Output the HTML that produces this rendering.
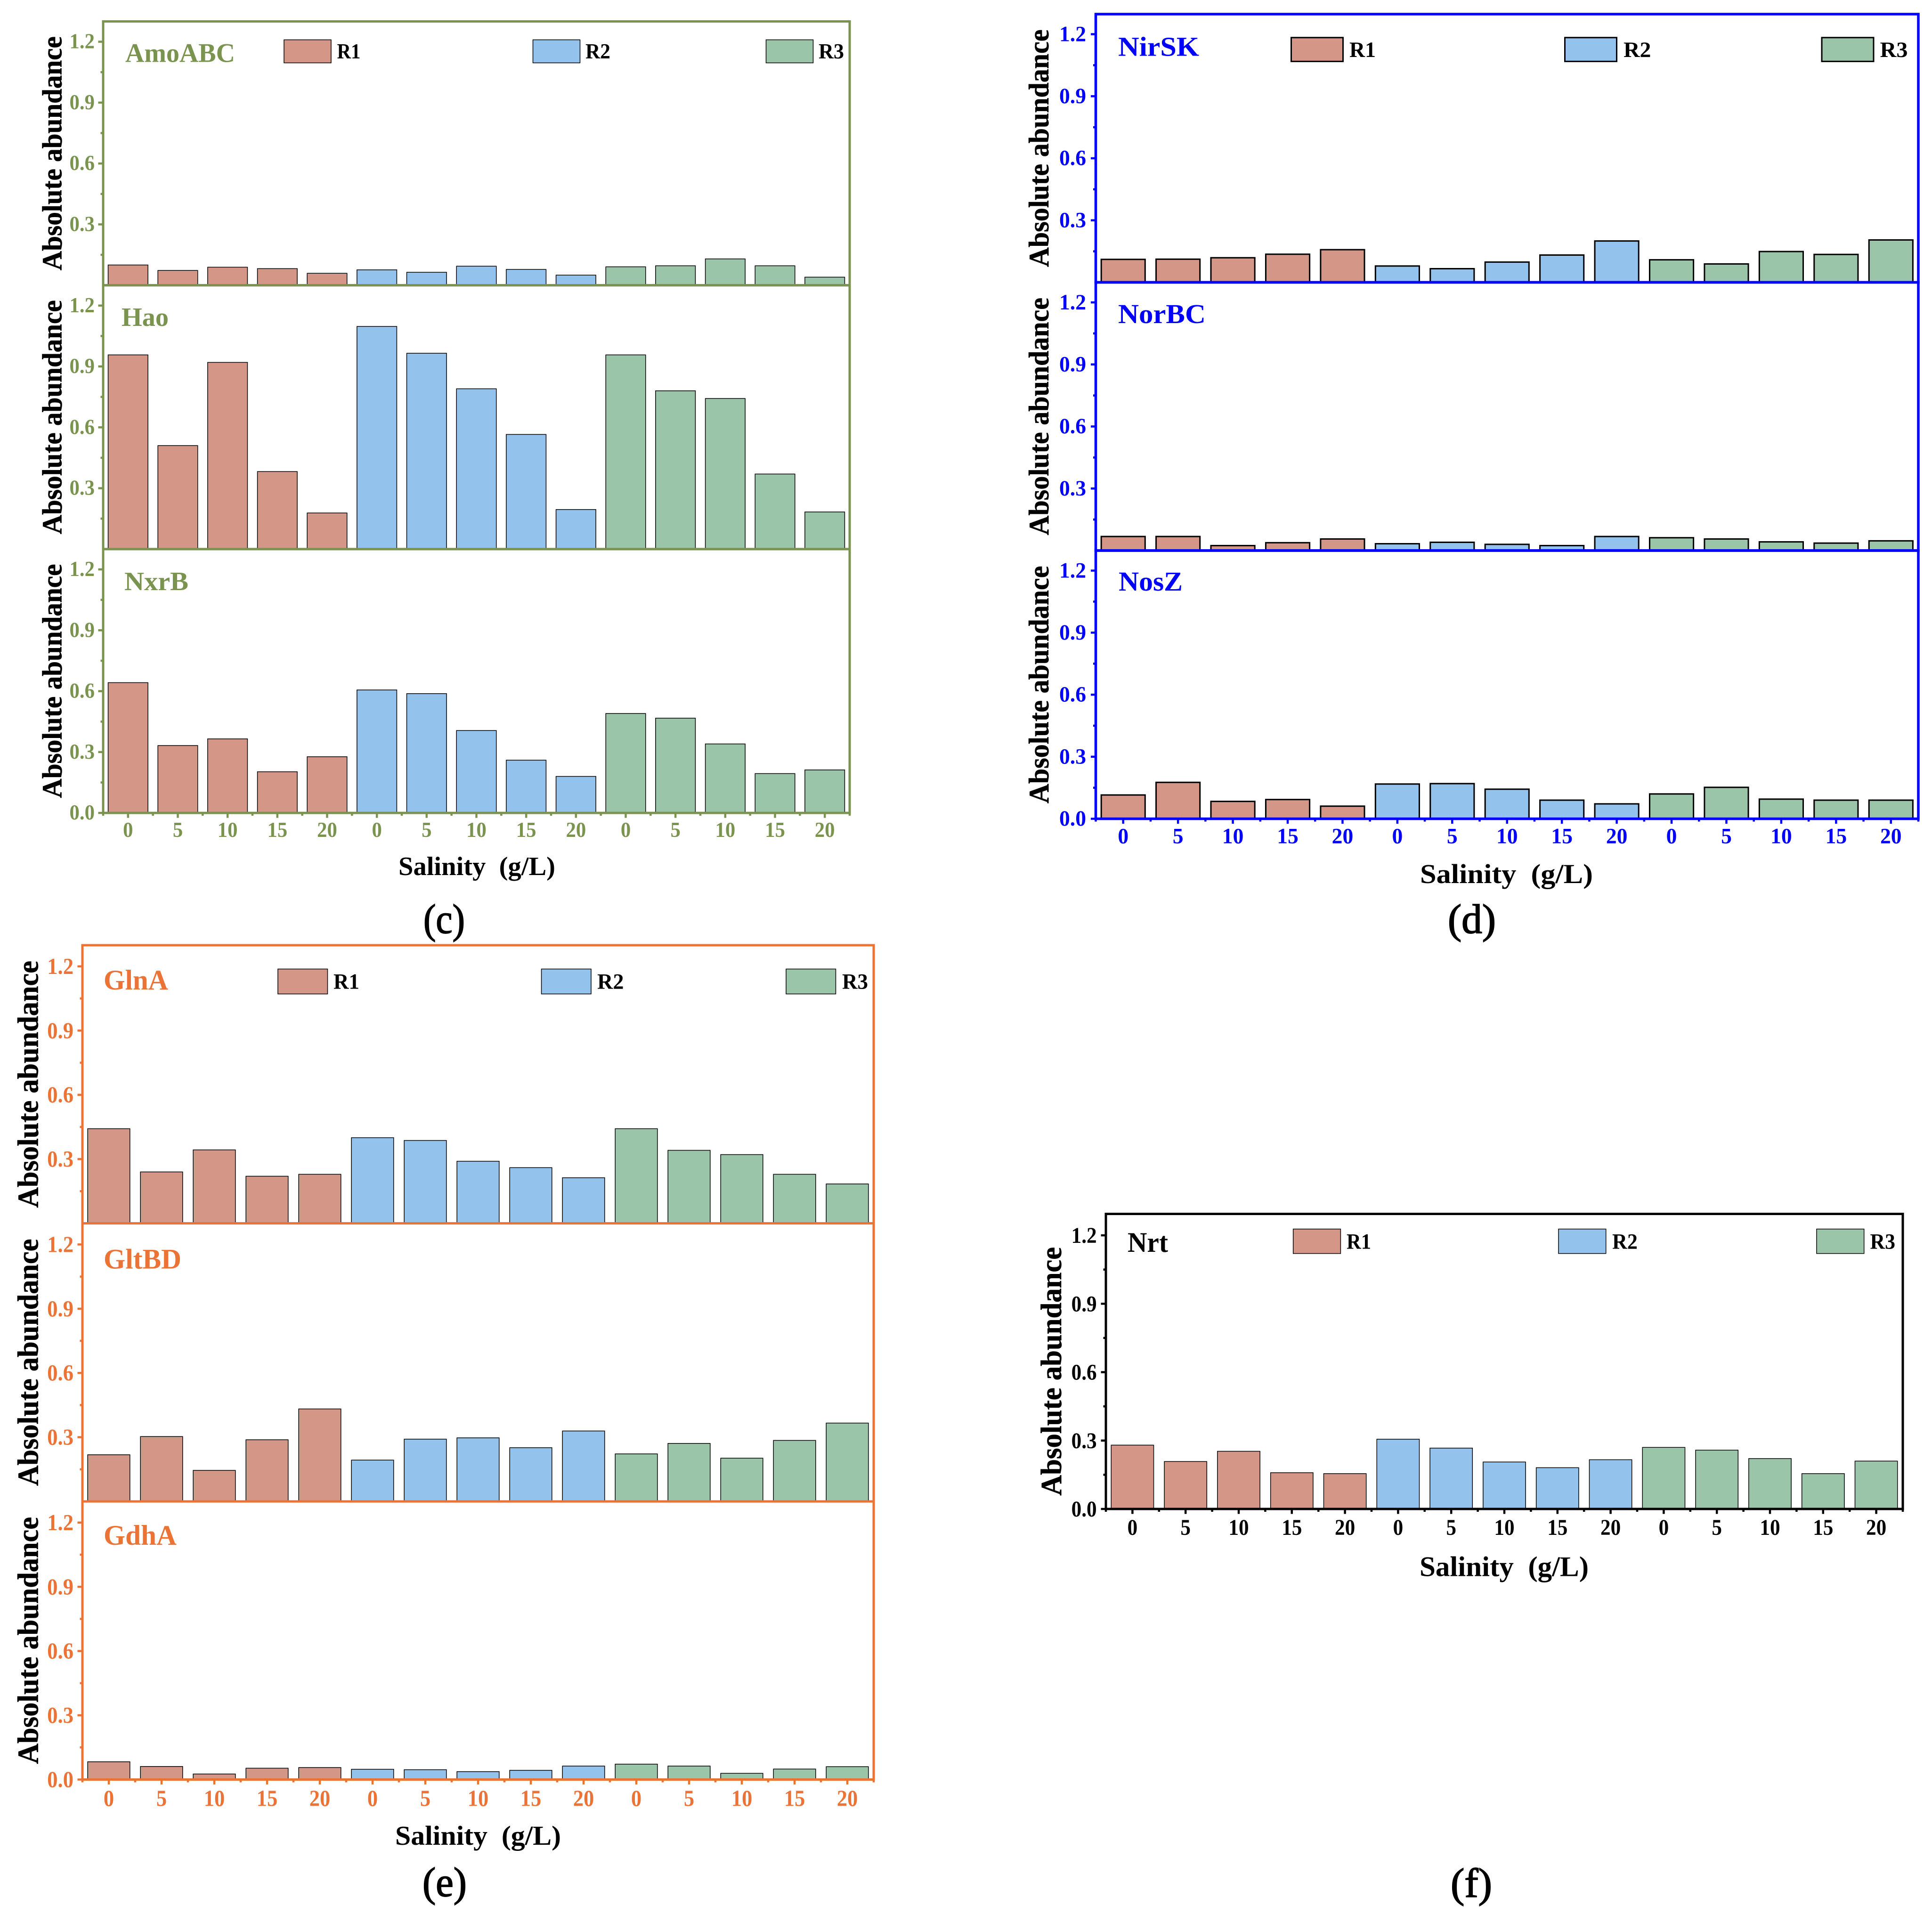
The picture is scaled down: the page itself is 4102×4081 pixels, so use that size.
<!DOCTYPE html>
<html lang="en">
<head>
<meta charset="utf-8">
<title>Absolute abundance of nitrogen-cycle enzymes versus salinity</title>
<style>
html,body{margin:0;padding:0;background:#fff;}
svg{display:block;}
text{font-family:"Liberation Serif",serif;white-space:pre;}
</style>
</head>
<body>
<svg id="figure" xmlns="http://www.w3.org/2000/svg" width="4102" height="4081" viewBox="0 0 4102 4081"></svg>
<script>
/* ---------- shared tick labels and categories ---------- */
const salinityLabels = ['0','5','10','15','20','0','5','10','15','20','0','5','10','15','20'];
const yMajorValues = [0.3,0.6,0.9,1.2];
const yMajorLabels = ['0.3','0.6','0.9','1.2'];
const yMinorValues = [0.15,0.45,0.75,1.05];
const seriesNames = ['R1','R2','R3'];

/* ---------- series values ---------- */
const AmoABC_R1 = [0.100,0.073,0.089,0.082,0.059];
const AmoABC_R2 = [0.076,0.064,0.094,0.078,0.050];
const AmoABC_R3 = [0.091,0.096,0.130,0.096,0.040];
const Hao_R1 = [0.957,0.510,0.920,0.382,0.178];
const Hao_R2 = [1.097,0.965,0.790,0.565,0.195];
const Hao_R3 = [0.957,0.780,0.742,0.370,0.183];
const NxrB_R1 = [0.642,0.332,0.365,0.203,0.277];
const NxrB_R2 = [0.606,0.588,0.406,0.260,0.180];
const NxrB_R3 = [0.490,0.467,0.340,0.194,0.212];

const NirSK_R1 = [0.111,0.112,0.119,0.136,0.158];
const NirSK_R2 = [0.079,0.066,0.098,0.132,0.200];
const NirSK_R3 = [0.109,0.089,0.149,0.135,0.205];
const NorBC_R1 = [0.068,0.068,0.024,0.038,0.056];
const NorBC_R2 = [0.033,0.040,0.030,0.024,0.068];
const NorBC_R3 = [0.062,0.056,0.042,0.036,0.047];
const NosZ_R1 = [0.115,0.176,0.084,0.093,0.061];
const NosZ_R2 = [0.168,0.170,0.143,0.090,0.072];
const NosZ_R3 = [0.120,0.152,0.095,0.090,0.090];

const GlnA_R1 = [0.442,0.240,0.343,0.220,0.229];
const GlnA_R2 = [0.400,0.387,0.290,0.260,0.213];
const GlnA_R3 = [0.442,0.341,0.321,0.229,0.184];
const GltBD_R1 = [0.218,0.303,0.145,0.288,0.432];
const GltBD_R2 = [0.193,0.291,0.297,0.251,0.329];
const GltBD_R3 = [0.222,0.271,0.202,0.285,0.366];
const GdhA_R1 = [0.083,0.061,0.026,0.053,0.056];
const GdhA_R2 = [0.048,0.046,0.037,0.043,0.063];
const GdhA_R3 = [0.072,0.063,0.029,0.049,0.060];

const Nrt_R1 = [0.280,0.208,0.253,0.159,0.155];
const Nrt_R2 = [0.306,0.267,0.206,0.181,0.216];
const Nrt_R3 = [0.270,0.258,0.221,0.155,0.210];

/* ---------- panel layout ---------- */
const seriesFills = ['#d49787','#93c3ec','#9bc5a9'];
const panels = [
 {id:'c',color:'#7a9450',x0:219,x1:1804,top:45.5,subH:560.2,yMax:1.3,barStroke:1.5,axisW:5,
  tickFont:46,tickScale:0.93,yLabelRight:201,yLabelDrop:14,xLabelDrop:51,
  yTitle:{x:130.5,len:497,font:59,offset:0},
  xTitle:{x:846,y:1858,len:333,font:56.5},
  tag:{x:899,y:1981,len:88,text:'(c)'},
  legend:{y:84.5,h:49,w:100,sw:[603,1131.5,1626.5],tx:[715.5,1243,1738],base:124,font:46,len:[50,53,54]},
  subs:[
   {name:'AmoABC',s:[AmoABC_R1,AmoABC_R2,AmoABC_R3],x:266,y:131.7,len:233,font:57},
   {name:'Hao',s:[Hao_R1,Hao_R2,Hao_R3],x:258,y:692,len:100,font:56},
   {name:'NxrB',s:[NxrB_R1,NxrB_R2,NxrB_R3],x:264,y:1253,len:136,font:56}
  ]},
 {id:'d',color:'#0000ff',x0:2326.5,x1:4073,top:30,subH:569.5,yMax:1.297,barStroke:3,axisW:5.5,
  tickFont:47,tickScale:0.97,yLabelRight:2306,yLabelDrop:14.7,xLabelDrop:52,
  yTitle:{x:2226,len:504.5,font:60,offset:0},
  xTitle:{x:3015,y:1875,len:367,font:58},
  tag:{x:3074,y:1981,len:102,text:'(d)'},
  legend:{y:79.8,h:50.6,w:110,sw:[2741.5,3322.5,3868],tx:[2865,3447,3991.5],base:120.8,font:47,len:[56,58.5,59]},
  subs:[
   {name:'NirSK',s:[NirSK_R1,NirSK_R2,NirSK_R3],x:2374,y:118.3,len:172,font:58},
   {name:'NorBC',s:[NorBC_R1,NorBC_R2,NorBC_R3],x:2374,y:686,len:186,font:58},
   {name:'NosZ',s:[NosZ_R1,NosZ_R2,NosZ_R3],x:2375,y:1254,len:136,font:58}
  ]},
 {id:'e',color:'#ec7336',x0:175,x1:1855,top:2007,subH:590.5,yMax:1.2987,barStroke:1.5,axisW:5,
  tickFont:49,tickScale:0.91,yLabelRight:156,yLabelDrop:16,xLabelDrop:55.8,
  yTitle:{x:80.5,len:524.5,font:62,offset:0},
  xTitle:{x:839,y:3917,len:352,font:58},
  tag:{x:897,y:4026,len:94,text:'(e)'},
  legend:{y:2057.5,h:53,w:105.5,sw:[590,1149.5,1669],tx:[708,1268,1788],base:2099.6,font:47,len:[55,56.5,55]},
  subs:[
   {name:'GlnA',s:[GlnA_R1,GlnA_R2,GlnA_R3],x:220,y:2101,len:137,font:60},
   {name:'GltBD',s:[GltBD_R1,GltBD_R2,GltBD_R3],x:220,y:2693.5,len:165,font:60},
   {name:'GdhA',s:[GdhA_R1,GdhA_R2,GdhA_R3],x:220,y:3280,len:155,font:60}
  ]},
 {id:'f',color:'#000000',x0:2348,x1:4040,top:2577.5,subH:626.5,yMax:1.294,barStroke:1.5,axisW:5,
  tickFont:48,tickScale:0.9,yLabelRight:2328.6,yLabelDrop:16,xLabelDrop:55,
  yTitle:{x:2253,len:528,font:62,offset:21},
  xTitle:{x:3014,y:3346.7,len:359,font:60},
  tag:{x:3080,y:4028,len:88,text:'(f)'},
  legend:{y:2609.6,h:52,w:100.7,sw:[2745.7,3309,3857],tx:[2859,3423,3970.5],base:2651.4,font:47,len:[52,54,53.5]},
  subs:[
   {name:'Nrt',s:[Nrt_R1,Nrt_R2,Nrt_R3],x:2394,y:2658,len:86,font:60}
  ]}
];

const SVG_NS = 'http://www.w3.org/2000/svg';
const fig = document.getElementById('figure');

function make(tag, attrs, parent){
  const el = document.createElementNS(SVG_NS, tag);
  for (const k in attrs) el.setAttribute(k, attrs[k]);
  parent.appendChild(el);
  return el;
}

/* axis functions */
function xBand(p){ return (p.x1 - p.x0) / salinityLabels.length; }
function xScale(p, i){ return p.x0 + xBand(p) * (i + 0.5); }
function subBase(p, k){ return p.top + p.subH * (k + 1); }
function yScale(p, k, v){ return subBase(p, k) - v * p.subH / p.yMax; }

function drawBars(p, k, g){
  const sub = p.subs[k];
  const band = xBand(p);
  salinityLabels.forEach(function(label, i){
    const groupIdx = Math.floor(i / 5);
    const v = sub.s[groupIdx][i % 5];
    const top = yScale(p, k, v);
    const bar = make('rect', {
      x: xScale(p, i) - band * 0.4, y: top, width: band * 0.8,
      height: subBase(p, k) - top, fill: seriesFills[groupIdx],
      stroke: '#000', 'stroke-width': p.barStroke
    }, g);
    
    
  });
}

function drawYAxis(p, k, g){
  const isLast = k === p.subs.length - 1;
  const values = isLast ? [0].concat(yMajorValues) : yMajorValues;
  const labels = isLast ? ['0.0'].concat(yMajorLabels) : yMajorLabels;
  values.forEach(function(v, i){
    const y = yScale(p, k, v);
    const tick = make('line', {x1: p.x0 - 10.5, x2: p.x0, y1: y, y2: y, stroke: p.color, 'stroke-width': 4.5}, g);
    
    
    const t = make('text', {
      transform: 'translate(' + p.yLabelRight + ',' + (y + p.yLabelDrop) + ') scale(' + p.tickScale + ',1)',
      'text-anchor': 'end', 'font-size': p.tickFont, 'font-weight': 'bold', fill: p.color
    }, g);
    t.textContent = labels[i];
    
    
  });
  yMinorValues.forEach(function(v){
    const y = yScale(p, k, v);
    const tick = make('line', {x1: p.x0 - 5.5, x2: p.x0, y1: y, y2: y, stroke: p.color, 'stroke-width': 4.5}, g);
    
    
  });
}

function drawFrame(p, k, g){
  const base = subBase(p, k);
  const top = base - p.subH;
  const frame = make('rect', {x: p.x0, y: top, width: p.x1 - p.x0, height: p.subH, fill: 'none', stroke: p.color, 'stroke-width': p.axisW}, g);
  
  
}

function drawXAxis(p, g){
  const base = subBase(p, p.subs.length - 1);
  const band = xBand(p);
  salinityLabels.forEach(function(label, i){
    const x = xScale(p, i);
    const tick = make('line', {x1: x, x2: x, y1: base, y2: base + 10.5, stroke: p.color, 'stroke-width': 4.5}, g);
    
    
    const t = make('text', {
      transform: 'translate(' + x + ',' + (base + p.xLabelDrop) + ') scale(' + p.tickScale + ',1)',
      'text-anchor': 'middle', 'font-size': p.tickFont, 'font-weight': 'bold', fill: p.color
    }, g);
    t.textContent = label;
    
    
  });
  for (let i = 0; i <= salinityLabels.length; i++){
    const x = p.x0 + band * i;
    const tick = make('line', {x1: x, x2: x, y1: base, y2: base + 6, stroke: p.color, 'stroke-width': 4.5}, g);
    
    
  }
  const xt = make('text', {
    x: p.xTitle.x, y: p.xTitle.y, 'font-size': p.xTitle.font, 'font-weight': 'bold', fill: '#000',
    textLength: p.xTitle.len, lengthAdjust: 'spacingAndGlyphs'
  }, g);
  xt.textContent = 'Salinity  (g/L)';
  
  
}

function drawYTitle(p, k, g){
  const centre = subBase(p, k) - p.subH / 2 + p.yTitle.offset;
  const t = make('text', {
    transform: 'translate(' + p.yTitle.x + ',' + (centre + p.yTitle.len / 2) + ') rotate(-90)',
    'font-size': p.yTitle.font, 'font-weight': 'bold', fill: '#000',
    stroke: '#000', 'stroke-width': 0.6,
    textLength: p.yTitle.len, lengthAdjust: 'spacingAndGlyphs'
  }, g);
  t.textContent = 'Absolute abundance';
  
  
}

function drawSubTitle(p, k, g){
  const sub = p.subs[k];
  const t = make('text', {
    x: sub.x, y: sub.y, 'font-size': sub.font, 'font-weight': 'bold', fill: p.color,
    textLength: sub.len, lengthAdjust: 'spacingAndGlyphs'
  }, g);
  t.textContent = sub.name;
  
  
}

function drawLegend(p, g){
  const lg = p.legend;
  seriesNames.forEach(function(name, i){
    const sw = make('rect', {x: lg.sw[i], y: lg.y, width: lg.w, height: lg.h, fill: seriesFills[i], stroke: '#000', 'stroke-width': p.barStroke}, g);
    
    
    const t = make('text', {
      x: lg.tx[i], y: lg.base, 'font-size': lg.font, 'font-weight': 'bold', fill: '#000',
      textLength: lg.len[i], lengthAdjust: 'spacingAndGlyphs'
    }, g);
    t.textContent = name;
    
    
  });
}

function drawTag(p, g){
  const t = make('text', {
    x: p.tag.x, y: p.tag.y, 'font-size': 88, 'font-weight': 'normal', fill: '#000',
    stroke: '#000', 'stroke-width': 1.8,
    textLength: p.tag.len, lengthAdjust: 'spacingAndGlyphs'
  }, g);
  t.textContent = p.tag.text;
  
  
}

panels.forEach(function(p){
  const g = make('g', {}, fig);
  
  
  p.subs.forEach(function(sub, k){
    drawBars(p, k, g);
    drawYAxis(p, k, g);
    drawFrame(p, k, g);
    drawYTitle(p, k, g);
    drawSubTitle(p, k, g);
  });
  drawXAxis(p, g);
  drawLegend(p, g);
  drawTag(p, g);
});
</script>
</body>
</html>
